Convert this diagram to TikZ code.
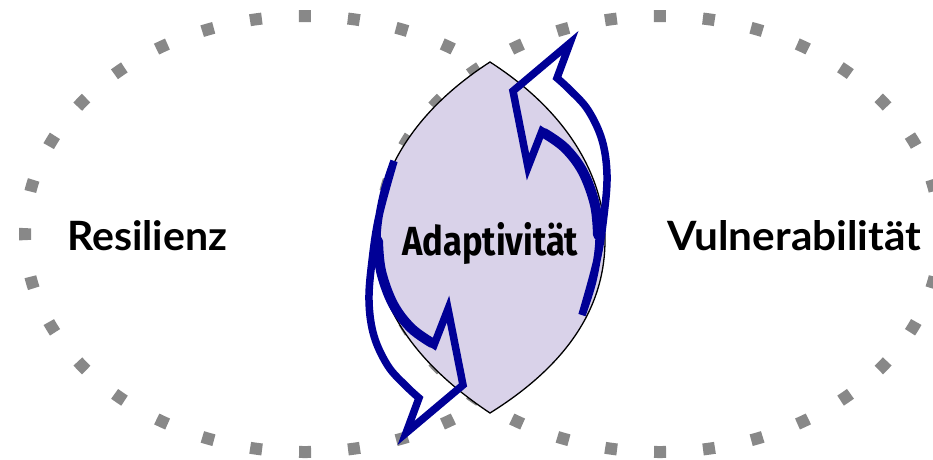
\documentclass[tikz,border=0pt]{standalone}
\usepackage{fontspec}
\setmainfont{Lato}
\newfontfamily\adfont{Fira Sans}
\definecolor{dotgray}{RGB}{136,136,136}
\definecolor{lensfill}{RGB}{217,210,233}
\definecolor{arrowblue}{RGB}{0,0,150}
\begin{document}
\begin{tikzpicture}[x=1pt,y=-1pt,
  dots/.style={draw=dotgray, line width=12pt, dash pattern=on 12pt off 37.08pt, dash phase=6pt},
  lens/.style={fill=lensfill, draw=black, line width=1.3pt},
  bluearrow/.style={draw=arrowblue, line width=7.5pt, line join=miter, miter limit=8},
  innerband/.style={draw=arrowblue, line width=10pt, line cap=round},
  txt/.style={inner sep=0pt, anchor=base west}]
\useasboundingbox (0,0) rectangle (933,459);
\draw[dots] (305,234) ellipse [x radius=280, y radius=218];
\draw[dots] (660,234) ellipse [x radius=280, y radius=218];
\draw[lens] (490,62) .. controls (400,120) and (375,190) .. (375,240)
  .. controls (375,300) and (410,360) .. (490,413)
  .. controls (575,360) and (605,300) .. (605,240)
  .. controls (605,190) and (580,120) .. (490,62) -- cycle;
% upper (right) arrow
\draw[bluearrow] plot[smooth, tension=0.6] coordinates {(582,315) (597,260) (604,215) (607,175) (602,140) (588,110) (570,90) (557,78)}
  -- (570,43) -- (513,91) -- (528,167)
  -- plot[smooth, tension=0.6] coordinates {(542,131) (565,148) (583,172) (595,205) (599,240) (593,280) (582,315)} -- cycle;
\draw[innerband] plot[smooth, tension=0.6] coordinates {(544,133) (565,148) (583,172) (595,205) (598,235)};
% lower (left) arrow
\draw[bluearrow] plot[smooth, tension=0.6] coordinates {(394,161) (379,216) (372,261) (369,301) (374,336) (388,366) (406,386) (419,398)}
  -- (406,433) -- (463,385) -- (448,309)
  -- plot[smooth, tension=0.6] coordinates {(434,345) (411,328) (393,304) (381,271) (377,236) (383,196) (394,161)} -- cycle;
\draw[innerband] plot[smooth, tension=0.6] coordinates {(432,343) (411,328) (393,304) (381,271) (378,241)};
\node[txt] (res) at (67,250) {\resizebox{160pt}{30pt}{\bfseries Resilienz}};
\node[txt] (vul) at (667,250) {\resizebox{254pt}{30pt}{\bfseries Vulnerabilität}};
\node[txt] (ada) at (402,255) {\resizebox{176pt}{33pt}{\adfont\bfseries Adaptivität}};
\end{tikzpicture}
\end{document}
